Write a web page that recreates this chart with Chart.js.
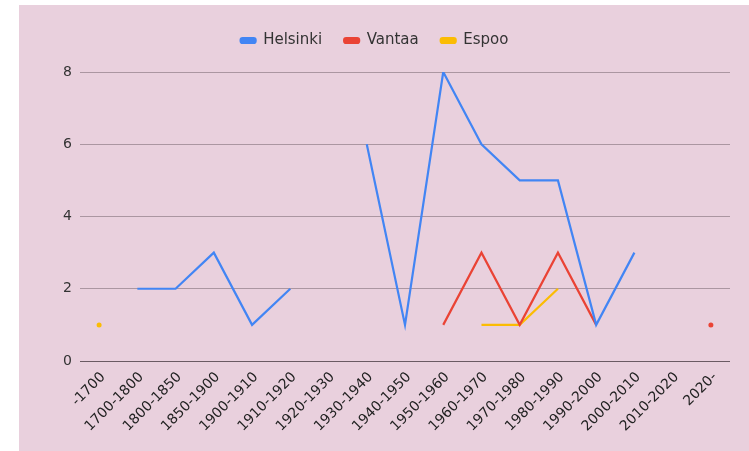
<!DOCTYPE html>
<html>
<head>
<meta charset="utf-8">
<script src="https://cdn.jsdelivr.net/npm/chart.js@4"></script>
<style>
  html, body { margin: 0; padding: 0; background: #ffffff; }
  #wrap { position: absolute; left: 19px; top: 5px; width: 730px; height: 446px; background: #e9d0dd; }
  canvas { display: block; }
</style>
</head>
<body>
<div id="wrap"><canvas id="c" width="730" height="446"></canvas></div>
<script>
const categories = ["-1700", "1700-1800", "1800-1850", "1850-1900", "1900-1910", "1910-1920", "1920-1930", "1930-1940", "1940-1950", "1950-1960", "1960-1970", "1970-1980", "1980-1990", "1990-2000", "2000-2010", "2010-2020", "2020-"];
const helsinki = [null, 2, 2, 3, 1, 2, null, 6, 1, 8, 6, 5, 5, 1, 3, null, null];
const vantaa   = [null, null, null, null, null, null, null, null, null, 1, 3, 1, 3, 1, null, null, 1];
const espoo    = [1, null, null, null, null, null, null, null, null, null, 1, 1, 2, null, null, null, null];
const yTicks = [0, 2, 4, 6, 8];

const FONT = "'DejaVu Sans', sans-serif";

function isolatedRadius(ctx) {
  const d = ctx.dataset.data, i = ctx.dataIndex;
  if (d[i] == null) return 0;
  const prev = i > 0 ? d[i - 1] : null;
  const next = i < d.length - 1 ? d[i + 1] : null;
  return (prev == null && next == null) ? 2.5 : 0;
}

function ds(label, data, color) {
  return {
    label, data,
    borderColor: color, backgroundColor: color,
    borderWidth: 2.2, tension: 0, spanGaps: false,
    pointRadius: isolatedRadius, pointHoverRadius: 0, pointBorderWidth: 0
  };
}

const legendSizer = {
  id: 'legendSizer',
  beforeInit(chart) {
    const lg = chart.legend;
    if (lg) {
      const orig = lg.fit;
      lg.fit = function () { orig.call(this); this.height = 61; };
    }
  }
};

new Chart(document.getElementById('c'), {
  type: 'line',
  data: {
    labels: categories,
    datasets: [
      ds('Helsinki', helsinki, '#4285f4'),
      ds('Vantaa', vantaa, '#ea4335'),
      ds('Espoo', espoo, '#fbbc04')
    ]
  },
  options: {
    responsive: false,
    animation: false,
    layout: { padding: { top: 6, right: 19, left: 0, bottom: 0 } },
    plugins: {
      legend: {
        position: 'top',
        labels: {
          font: { family: FONT, size: 15 },
          color: '#333333',
          boxWidth: 15, boxHeight: 5,
          useBorderRadius: true, borderRadius: 2,
          padding: 22
        }
      },
      tooltip: { enabled: false }
    },
    scales: {
      x: {
        offset: true,
        grid: { display: false, drawTicks: false },
        border: { display: false },
        ticks: {
          autoSkip: false, maxRotation: 45, minRotation: 45,
          font: { family: FONT, size: 14 }, color: '#222222', padding: 8,
          labelOffset: 4
        },
        afterFit(scale) { scale.height = 90; }
      },
      y: {
        min: 0, max: 8,
        afterBuildTicks(scale) { scale.ticks = yTicks.map(v => ({ value: v })); },
        grid: {
          drawTicks: false,
          color: ctx => ctx.tick && ctx.tick.value === 0 ? '#6a5a63' : '#ab96a1',
          lineWidth: 1
        },
        border: { display: false },
        ticks: { font: { family: FONT, size: 14 }, color: '#333333', padding: 8 },
        afterFit(scale) { scale.width = 61; }
      }
    }
  },
  plugins: [legendSizer]
});
</script>
</body>
</html>
